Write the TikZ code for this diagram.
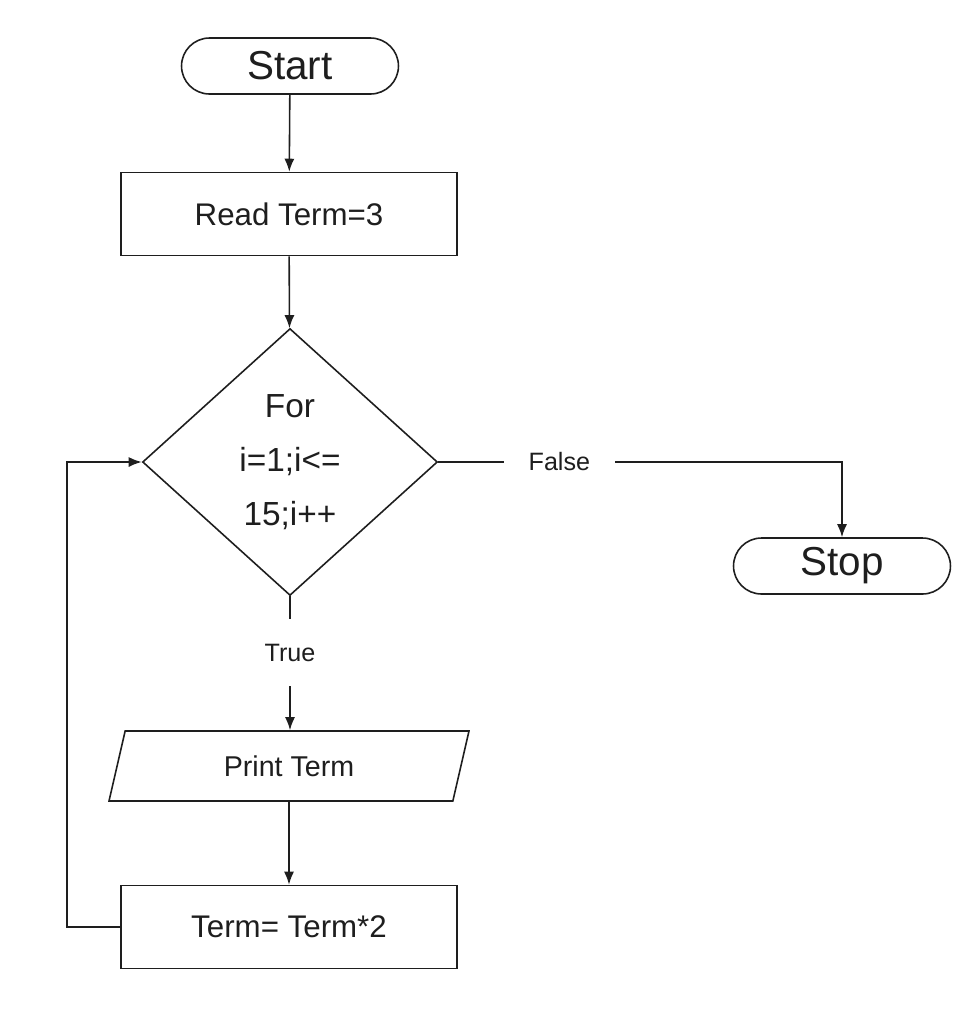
\documentclass[tikz,border=0pt]{standalone}
\usepackage{fontspec}
\setmainfont{Liberation Sans}
\usetikzlibrary{arrows.meta,positioning,shapes.geometric,shapes.misc}
\definecolor{FcInk}{RGB}{30,30,30}
\tikzset{
  fc/term/.style={
    rounded rectangle,
    draw=FcInk,
    line width=0.9pt,
    fill=white,
    text=FcInk,
    minimum width=4.34cm,
    minimum height=1.12cm,
    inner sep=0pt,
    font=\fontsize{23}{26}\selectfont
  },
  fc/proc/.style={
    rectangle,
    draw=FcInk,
    line width=0.9pt,
    fill=white,
    text=FcInk,
    minimum width=6.72cm,
    minimum height=1.66cm,
    inner sep=0pt,
    font=\fontsize{17.8}{20}\selectfont
  },
  fc/dec/.style={
    diamond,
    draw=FcInk,
    line width=0.9pt,
    fill=white,
    text=FcInk,
    align=center,
    aspect=1.1,
    minimum width=5.9cm,
    minimum height=5.34cm,
    inner sep=0pt,
    font=\fontsize{19}{30.6}\selectfont
  },
  fc/io/.style={
    trapezium,
    trapezium left angle=73,
    trapezium right angle=107,
    trapezium stretches=true,
    draw=FcInk,
    line width=0.9pt,
    fill=white,
    text=FcInk,
    minimum width=7.24cm,
    minimum height=1.4cm,
    inner sep=0pt,
    font=\fontsize{16.3}{18}\selectfont
  },
  fc/arrow/.style={-{Latex[length=2.6mm,width=2mm]}, line width=0.9pt, draw=FcInk},
  fc/label/.style={fill=white, text=FcInk, inner xsep=0.5cm, inner ysep=0.5cm, font=\fontsize{14.3}{16}\selectfont}
}

\begin{document}
\begin{tikzpicture}[x=0.02cm,y=-0.02cm]
  \useasboundingbox (0,0) rectangle (976,1036);
  \node[fc/term] (start) at (290,66) {Start};
  \node[fc/proc] (read) at (289,214) {Read Term=3};
  \node[fc/dec] (loop) at (290,462) {For\\i=1;i<=\\15;i++};
  \node[fc/term] (stop) at (842,566) {Stop};
  \node[fc/io] (print) at (289,766) {Print Term};
  \node[fc/proc] (double) at (289,927) {Term= Term*2};

  \draw[fc/arrow] (start) -- (read);
  \draw[fc/arrow] (read) -- (loop);
  \draw[fc/arrow] (loop.east) -| node[fc/label,pos=0.15] {False} (stop.north);
  \draw[fc/arrow] (loop.south) -- node[fc/label,pos=0.42] {True} (print.north -| loop.south);
  \draw[fc/arrow] (print.south -| double.north) -- (double);
  \draw[fc/arrow] (double.west) -- ++(-53,0) |- (loop.west);
\end{tikzpicture}
\end{document}
